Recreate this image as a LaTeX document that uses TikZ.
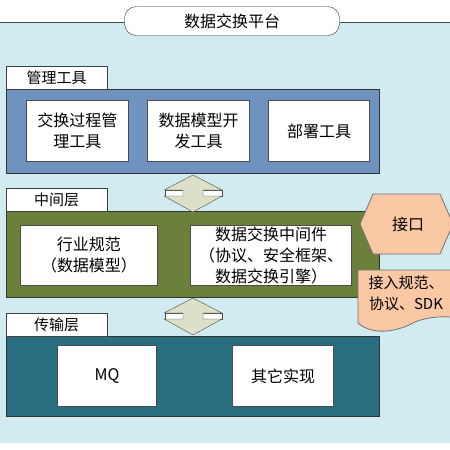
\documentclass[tikz,border=0pt]{standalone}
\usepackage{fontspec}
\setmainfont{Noto Sans CJK SC}
\definecolor{bgblue}{RGB}{210,235,240}
\definecolor{toolblue}{RGB}{112,146,190}
\definecolor{midgreen}{RGB}{107,128,58}
\definecolor{transteal}{RGB}{40,110,128}
\definecolor{peach}{RGB}{250,200,165}
\definecolor{arrowgray}{RGB}{220,224,200}
\begin{document}
\begin{tikzpicture}[x=1pt,y=-1pt,
  layer/.style={draw=black!80,line width=1pt,anchor=north west,minimum width=373pt,inner sep=0pt},
  tab/.style={draw=black!75,fill=white,anchor=north west,minimum width=101pt,minimum height=23pt,inner sep=0pt,font=\fontsize{15}{15}\selectfont},
  item/.style={draw=black!70,line width=1pt,fill=white,anchor=north west,minimum height=61pt,align=center,inner sep=0pt,font=\fontsize{16}{21}\selectfont},
  bubble/.style={fill=peach,draw=black!55,line width=0.8pt}]
  \useasboundingbox (0,0) rectangle (450,450);
  \fill[bgblue] (0,22) rectangle (450,443);
  \draw[black!70] (0,22) -- (450,22);
  \node (title)[draw=black!80,fill=white,rounded corners=12pt,minimum width=215pt,minimum height=29pt,
    font=\fontsize{16}{16}\selectfont] at (232,21) {数据交换平台};
  % management tools
  \node (mgmt)[layer,fill=toolblue,minimum height=84pt] at (6,89) {};
  \node (mgmttab)[tab] at (6,66) {管理工具};
  \node (proc)[item,minimum width=102pt] at (26,100) {交换过程管\\理工具};
  \node (model)[item,minimum width=102pt] at (147,100) {数据模型开\\发工具};
  \node (deploy)[item,minimum width=101pt] at (268,100) {部署工具};
  % middle layer
  \node (mid)[layer,fill=midgreen,minimum height=86pt] at (6,211) {};
  \node (midtab)[tab] at (6,188) {中间层};
  \node (norm)[item,minimum width=137pt,minimum height=60pt] at (20,225) {行业规范\\（数据模型）};
  \node (ware)[item,minimum width=161pt,minimum height=60pt] at (190,225) {数据交换中间件\\（协议、安全框架、\\数据交换引擎）};
  % transport layer
  \node (trans)[layer,fill=transteal,minimum height=80pt] at (6,336) {};
  \node (transtab)[tab] at (6,313) {传输层};
  \node (mq)[item,minimum width=99pt] at (57,345) {MQ};
  \node (other)[item,minimum width=101pt] at (232,345) {其它实现};
  % up/down arrows between layers
  \foreach \y in {175,298}{
    \begin{scope}[yshift=-\y pt]
      \filldraw[fill=white,draw=black!70] (165,15) rectangle (222,21);
      \filldraw[fill=arrowgray,draw=black!70,line join=round] (193,0) -- (222,15) -- (203,15) -- (203,21)
        -- (222,21) -- (193,37) -- (164,21) -- (183,21) -- (183,15) -- (164,15) -- cycle;
    \end{scope}
  }
  % interface
  \filldraw[bubble] (360,224) -- (373,194) -- (440,194) -- (453,224) -- (440,254) -- (373,254) -- cycle;
  \node (iface)[font=\fontsize{16}{16}\selectfont] at (408,224) {接口};
  \filldraw[bubble] (358,270) -- (462,270) -- (462,318) .. controls (445,316) and (430,316) .. (415,322)
    .. controls (395,333) and (372,335) .. (358,323) -- cycle;
  \node (spec)[align=center,font=\fontsize{15}{21}\selectfont] at (406,293) {接入规范、\\协议、SDK};
\end{tikzpicture}
\end{document}
